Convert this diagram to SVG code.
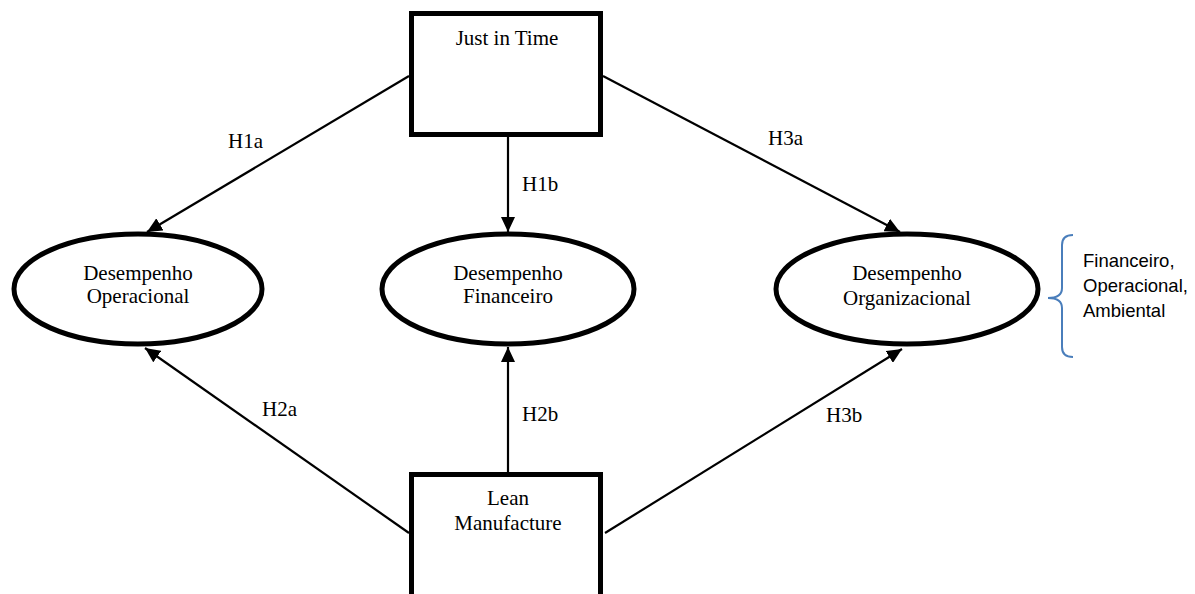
<svg xmlns="http://www.w3.org/2000/svg" width="1195" height="594" viewBox="0 0 1195 594">
<style>
  .box { fill: #ffffff; stroke: #000000; stroke-width: 5; }
  .ell { fill: #ffffff; stroke: #000000; stroke-width: 5; }
  .t { font-family: "Liberation Serif", "Times New Roman", serif; font-size: 21px; fill: #000000; text-anchor: middle; }
  .lbl { font-family: "Liberation Serif", "Times New Roman", serif; font-size: 21px; fill: #000000; }
  .edge { stroke: #000000; stroke-width: 2.2; fill: none; marker-end: url(#arrow); }
  .note { font-family: "Liberation Sans", Arial, sans-serif; font-size: 18.5px; fill: #000000; }
  .brace { stroke: #4A7EBB; stroke-width: 2; fill: none; }
</style>
<defs>
  <marker id="arrow" markerUnits="userSpaceOnUse" markerWidth="16" markerHeight="14" refX="15" refY="7" orient="auto">
    <path d="M0,0 L15,7 L0,14 Z" fill="#000000"/>
  </marker>
</defs>
<rect width="1195" height="594" fill="#ffffff"/>
<g id="connectors">
  <line class="edge" x1="409" y1="76" x2="147" y2="232"/>
  <line class="edge" x1="508" y1="137" x2="508" y2="232"/>
  <line class="edge" x1="603" y1="76" x2="900" y2="232"/>
  <line class="edge" x1="409" y1="533" x2="145" y2="348"/>
  <line class="edge" x1="508" y1="472" x2="508" y2="347"/>
  <line class="edge" x1="605" y1="533" x2="902" y2="349"/>
  <text class="lbl" x="228" y="148">H1a</text>
  <text class="lbl" x="522" y="191">H1b</text>
  <text class="lbl" x="768" y="145">H3a</text>
  <text class="lbl" x="262" y="416">H2a</text>
  <text class="lbl" x="522" y="421">H2b</text>
  <text class="lbl" x="826" y="422">H3b</text>
</g>
<g id="jit">
  <rect class="box" x="411.5" y="13.5" width="189" height="121"/>
  <text class="t" x="507" y="45">Just in Time</text>
</g>
<g id="lean">
  <rect class="box" x="411.5" y="474.5" width="189" height="140"/>
  <text class="t" x="508" y="505">Lean</text>
  <text class="t" x="508" y="530">Manufacture</text>
</g>
<g id="desOperacional">
  <ellipse class="ell" cx="138" cy="289" rx="124" ry="55"/>
  <text class="t" x="138" y="280">Desempenho</text>
  <text class="t" x="138" y="303">Operacional</text>
</g>
<g id="desFinanceiro">
  <ellipse class="ell" cx="508" cy="289" rx="126" ry="55"/>
  <text class="t" x="508" y="280">Desempenho</text>
  <text class="t" x="508" y="303">Financeiro</text>
</g>
<g id="desOrganizacional">
  <ellipse class="ell" cx="907" cy="289" rx="131" ry="55"/>
  <text class="t" x="907" y="280">Desempenho</text>
  <text class="t" x="907" y="305">Organizacional</text>
</g>
<g id="dimensoes">
  <path class="brace" d="M1073,235 Q1062,235 1062,245 L1062,288 Q1062,298 1048,298 Q1062,298 1062,308 L1062,347 Q1062,357 1073,357"/>
  <text class="note" x="1083" y="267">Financeiro,</text>
  <text class="note" x="1083" y="292">Operacional,</text>
  <text class="note" x="1083" y="317">Ambiental</text>
</g>
</svg>
